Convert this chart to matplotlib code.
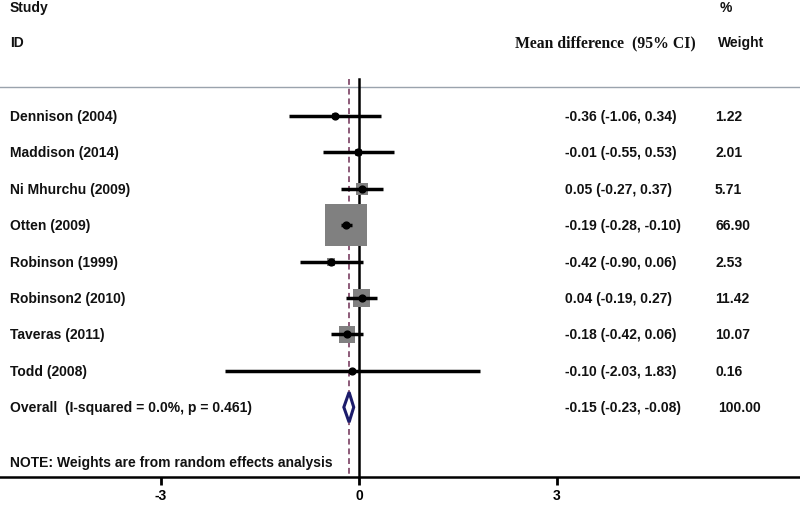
#!/usr/bin/env python3

import matplotlib.pyplot as plt
import matplotlib.transforms as mtransforms
import numpy as np

studies = ['Dennison (2004)', 'Maddison (2014)', 'Ni Mhurchu (2009)', 'Otten (2009)',
           'Robinson (1999)', 'Robinson2 (2010)', 'Taveras (2011)', 'Todd (2008)']
md = [-0.36, -0.01, 0.05, -0.19, -0.42, 0.04, -0.18, -0.10]
lo = [-1.06, -0.55, -0.27, -0.28, -0.90, -0.19, -0.42, -2.03]
hi = [0.34, 0.53, 0.37, -0.10, 0.06, 0.27, 0.06, 1.83]
weights = [1.22, 2.01, 5.71, 66.90, 2.53, 11.42, 10.07, 0.16]
overall_label = 'Overall  (I-squared = 0.0%, p = 0.461)'
overall = (-0.15, -0.23, -0.08)
overall_weight = 100.00
note = 'NOTE: Weights are from random effects analysis'
xticks = [-3, 0, 3]

W, H = 800, 506
px_per_unit = 66.0
x0_px = 359
axis_px = 478   # bottom axis line, pixels from top
top_px = 88     # header rule
row0, row_step = 117, 36.4

plt.rcParams['font.family'] = ['Liberation Sans', 'DejaVu Sans']

fig = plt.figure(figsize=(W / 100, H / 100), dpi=100)
ax = fig.add_axes([0, (H - axis_px) / H, 1, axis_px / H])
ax.set_xlim(-x0_px / px_per_unit, (W - x0_px) / px_per_unit)
ax.set_ylim(axis_px, 0)
for s in ['top', 'left', 'right']:
    ax.spines[s].set_visible(False)
ax.spines['bottom'].set_linewidth(1.8)
ax.set_yticks([])
ax.set_xticks(xticks)
ax.set_xticklabels([str(t) for t in xticks], fontsize=10, fontweight='bold')
ax.tick_params(axis='x', direction='out', length=6, width=2, pad=2)

# columns in pixel x, data y
tr = mtransforms.blended_transform_factory(fig.transFigure, ax.transData)
def txt(xpx, y, s, **kw):
    kw.setdefault('fontsize', 10)
    kw.setdefault('fontweight', 'bold')
    ax.text(xpx / W, y, s, transform=tr, va='center', ha='left', color='#111111', **kw)

txt(10, 8, 'Study')
txt(10, 43, 'ID')
txt(720, 8, '%')
txt(515, 43, 'Mean difference  (95% CI)', family='Liberation Serif', fontsize=11.3)
txt(718, 43, 'Weight')

ax.axhline(top_px, color='#9aa3ad', lw=1)
ax.plot([0, 0], [80, axis_px], color='black', lw=1.8, zorder=2)
ax.plot([overall[0]] * 2, [80, axis_px], color='#8c5a78', lw=1.4, ls=(0, (3, 2)), zorder=3)

ys = row0 + row_step * np.arange(len(studies))
side_px = 5.13 * np.sqrt(weights)
ax.scatter(md, ys, s=(side_px * 0.72) ** 2, marker='s', color='#808080', lw=0, zorder=4)
ax.hlines(ys, lo, hi, color='black', lw=2.5, zorder=5)
ax.scatter(md, ys, s=24, color='black', zorder=6)

for i, y in enumerate(ys):
    txt(10, y, studies[i])
    txt(565, y, '%.2f (%.2f, %.2f)' % (md[i], lo[i], hi[i]))
    txt(715, y, '%.2f' % weights[i])

yo = row0 + row_step * len(studies)
est, olo, ohi = overall
ax.fill([olo, est, ohi, est, olo], [yo, yo - 15, yo, yo + 15, yo],
        facecolor='white', edgecolor='#1c1c6b', lw=2.2, zorder=6)
txt(10, yo, overall_label)
txt(565, yo, '%.2f (%.2f, %.2f)' % overall)
txt(718, yo, '%.2f' % overall_weight)

txt(10, yo + row_step * 1.5, note)

fig.savefig('out.png', dpi=100)
